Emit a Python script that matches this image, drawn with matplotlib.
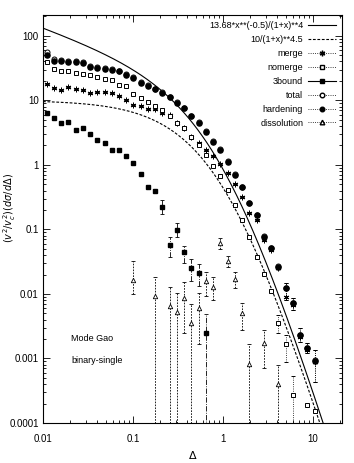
import numpy as np
import matplotlib
matplotlib.use("Agg")
import matplotlib.pyplot as plt
from matplotlib.lines import Line2D

plt.rcParams['font.family'] = ['Liberation Sans Narrow', 'Liberation Sans', 'DejaVu Sans']
plt.rcParams['mathtext.fontset'] = 'custom'
plt.rcParams['mathtext.rm'] = 'Liberation Sans Narrow'
plt.rcParams['mathtext.it'] = 'Liberation Sans Narrow:italic'

# bin centres (Delta)
delta = [0.0110, 0.0132, 0.0159, 0.0191, 0.0231, 0.0277, 0.0334, 0.0402, 0.0483, 0.0582,
         0.0700, 0.0842, 0.101, 0.122, 0.147, 0.177, 0.212, 0.256, 0.308, 0.371,
         0.446, 0.536, 0.645, 0.777, 0.935, 1.125, 1.35, 1.63, 1.96, 2.36,
         2.84, 3.42, 4.11, 4.95, 5.95, 7.16, 8.62, 10.4]

hardening = [50.7, 40.0, 40.9, 39.5, 38.6, 37.7, 33.4, 31.6, 30.8, 29.7,
             28.0, 24.9, 22.1, 18.7, 16.8, 14.9, 13.2, 11.2, 9.25, 7.52,
             5.75, 4.53, 3.28, 2.30, 1.71, 1.12, 0.70, 0.451, 0.255, 0.168,
             0.0773, 0.0511, 0.0265, 0.0122, 0.00712, 0.00227, 0.00144, 0.000914]
hard_lo = [None] * 33 + [0.0081, 0.00565, 0.0018, 0.00122, 0.00043]
hard_hi = [None] * 33 + [0.0148, 0.00867, 0.00297, 0.00174, 0.00135]

total = [57.0, 44.0, 42.5, 41.0, 40.0, 39.0, 34.5, 32.5, 31.5, 30.5,
         28.7, 25.5, 22.6, 19.2, 17.2, 15.2, 13.4, 11.4, 9.4, 7.6,
         5.8, 4.6, 3.3, 2.35, 1.74, 1.14, 0.72, 0.46, 0.26, 0.17,
         0.078, 0.052, 0.027, 0.0124, 0.0072, 0.0023, 0.00146, 0.00093]

merge = [18.0, 15.3, 14.5, 15.9, 14.8, 14.5, 12.9, 13.6, 13.6, 13.1,
         11.5, 10.0, 8.6, 8.07, 7.31, 7.3, 6.33, 5.96, 4.53, 3.71,
         2.75, 2.17, 1.71, 1.38, 1.04, 0.743, 0.51, 0.323, 0.178, 0.14,
         0.0687, 0.0481, 0.025, 0.0091, 0.00675, 0.00215, 0.00135, 0.00088]

nomerge = [39.5, 30.5, 28.7, 28.7, 26.2, 25.5, 24.4, 23.1, 21.5, 20.4,
           17.1, 16.5, 12.6, 10.8, 9.58, 8.22, 7.12, 5.75, 4.53, 3.71,
           2.75, 2.04, 1.40, 0.96, 0.664, 0.41, 0.24, 0.14, 0.077, 0.038,
           0.0206, 0.0113, 0.00355, 0.00166, 0.00027, np.nan, 0.00019, 0.000156]
nomerge_lo = [None] * 32 + [0.00246, 0.00089, 1e-6, None, None, None]
nomerge_hi = [None] * 32 + [0.00472, 0.00231, 0.000536, None, None, None]

bound3 = [6.33, 5.35, 4.53, 4.64, 3.49, 3.66, 3.0, 2.44, 2.17, 1.71,
          1.73, 1.35, 1.06, 0.72, 0.461, 0.40, 0.223, 0.0575, 0.098, 0.044,
          0.025, 0.021, 0.00246]
bound3_lo = [None] * 16 + [0.174, 0.0371, 0.0766, 0.0299, 0.0161, 0.0133, 1e-6]
bound3_hi = [None] * 16 + [0.286, 0.0757, 0.126, 0.0561, 0.0349, 0.0292, 0.0049]

diss_x = [0.101, 0.177, 0.256, 0.308, 0.371, 0.446, 0.536, 0.645,
          0.777, 0.935, 1.125, 1.35, 1.63, 1.96, 2.84, 4.11]
dissolution = [0.0165, 0.0092, 0.0065, 0.00526, 0.0087, 0.0036, 0.0061, 0.0156,
               0.013, 0.061, 0.0321, 0.0173, 0.005, 0.00082, 0.00172, 0.0004]
diss_lo = [0.010, 1e-6, 1e-6, 1e-6, 0.0025, 1e-6, 0.0017, 0.0093,
           0.0081, 0.049, 0.0264, 0.0122, 0.0028, 1e-6, 0.0007, 1e-6]
diss_hi = [0.032, 0.0182, 0.0127, 0.0103, 0.0155, 0.0070, 0.0103, 0.0215,
           0.018, 0.074, 0.0386, 0.0215, 0.0072, 0.0017, 0.0028, 0.00078]


def yerr(y, lo, hi):
    y = np.asarray(y, float)
    n = len(y)
    lo = [y[i] if (i >= len(lo) or lo[i] is None) else lo[i] for i in range(n)]
    hi = [y[i] if (i >= len(hi) or hi[i] is None) else hi[i] for i in range(n)]
    return np.array([y - np.array(lo), np.array(hi) - y])


fig = plt.figure(figsize=(3.54, 4.63), dpi=100)
ax = fig.add_axes([43 / 354, 40 / 463, 299 / 354, 408 / 463])

# model curves
xs = np.logspace(-2, np.log10(20), 400)
ax.plot(xs, 13.68 * xs ** (-0.5) / (1 + xs) ** 4, 'k-', lw=0.8)
ax.plot(xs, 10 / (1 + xs) ** 4.5, 'k', ls=(0, (2.5, 1.5)), lw=0.8)

ek = dict(capsize=1.5, elinewidth=0.6, capthick=0.6, ecolor='k', color='k', ls='none')

e = ax.errorbar(delta, merge, yerr=yerr(merge, hard_lo, hard_hi), marker=(6, 2, 0), ms=4, mew=0.7, **ek)
e[-1][0].set_linestyle(':')
e = ax.errorbar(delta, nomerge, yerr=yerr(nomerge, nomerge_lo, nomerge_hi), marker='s', ms=3.3, mfc='white', mew=0.7, **ek)
e[-1][0].set_linestyle(':')
e = ax.errorbar(delta[:len(bound3)], bound3, yerr=yerr(bound3, bound3_lo, bound3_hi), marker='s', ms=3.5, mfc='k', **ek)
e[-1][0].set_linestyle('-.')
ax.errorbar(delta, total, marker='o', ms=3.6, mfc='white', mew=0.7, **ek)
e = ax.errorbar(delta, hardening, yerr=yerr(hardening, hard_lo, hard_hi), marker='o', ms=3.7, mfc='k', **ek)
e[-1][0].set_linestyle(':')
e = ax.errorbar(diss_x, dissolution, yerr=yerr(dissolution, diss_lo, diss_hi), marker='^', ms=3.2, mfc='white', mew=0.6, **ek)
e[-1][0].set_linestyle((0, (2, 1.5)))

ax.set_xscale('log')
ax.set_yscale('log')
ax.set_xlim(0.01, 21)
ax.set_ylim(0.0001, 210)
ax.set_xticks([0.01, 0.1, 1, 10])
ax.set_xticklabels(['0.01', '0.1', '1', '10'])
ax.set_yticks([0.0001, 0.001, 0.01, 0.1, 1, 10, 100])
ax.set_yticklabels(['0.0001', '0.001', '0.01', '0.1', '1', '10', '100'])
ax.tick_params(which='both', direction='in', top=True, right=True, labelsize=7, width=0.6)
ax.tick_params(which='major', length=5)
ax.tick_params(which='minor', length=2.5)
ax.tick_params(axis='x', pad=8)
ax.tick_params(axis='y', pad=3)
for s in ax.spines.values():
    s.set_linewidth(0.8)

handles = [
    Line2D([], [], color='k', lw=0.8),
    Line2D([], [], color='k', lw=0.8, ls=(0, (2.5, 1.5))),
    Line2D([], [], color='k', lw=0.6, ls=':', marker=(6, 2, 0), ms=4),
    Line2D([], [], color='k', lw=0.6, ls=':', marker='s', ms=3.3, mfc='white'),
    Line2D([], [], color='k', lw=0.8, ls='-', marker='s', ms=3.3),
    Line2D([], [], color='k', lw=0.6, ls=':', marker='o', ms=3.3, mfc='white'),
    Line2D([], [], color='k', lw=0.6, ls=':', marker='o', ms=3.3),
    Line2D([], [], color='k', lw=0.6, ls=':', marker='^', ms=3.3, mfc='white'),
]
labels = ['13.68*x**(-0.5)/(1+x)**4', '10/(1+x)**4.5', 'merge', 'nomerge',
          '3bound', 'total', 'hardening', 'dissolution']
ax.legend(handles, labels, loc='upper right', bbox_to_anchor=(0.985, 0.99),
          frameon=False, markerfirst=False, fontsize=6.5, handlelength=3.1,
          labelspacing=0.55, handletextpad=0.5, borderaxespad=0, borderpad=0.2)

ax.text(0.094, 0.206, 'Mode Gao', transform=ax.transAxes, fontsize=6.5, va='center')
ax.text(0.094, 0.152, 'binary-single', transform=ax.transAxes, fontsize=6.5, va='center')

fig.text(193 / 354, 1 - 455 / 463, r'$\Delta$', ha='center', va='center', fontsize=8)
fig.text(10 / 354, 1 - 208 / 463, r'$(v^2/v_c^2)(d\sigma/d\Delta)$', rotation=90,
         ha='center', va='center', fontsize=7)

fig.savefig('out.png', dpi=100)
